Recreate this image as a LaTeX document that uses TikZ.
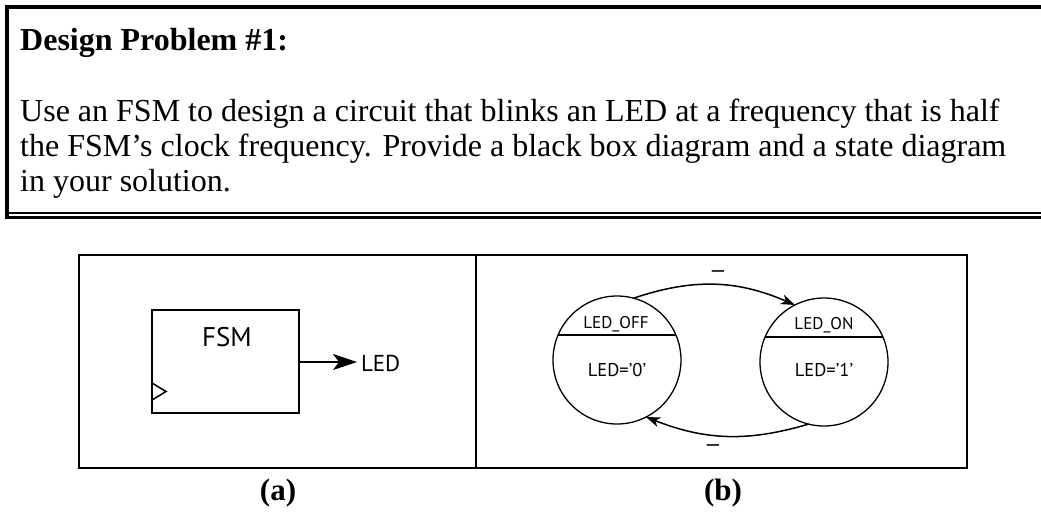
\documentclass[tikz,border=0pt]{standalone}
\usepackage{fontspec}
\setmainfont{Liberation Serif}
\newfontfamily\diagfont{PT Sans}
\usetikzlibrary{arrows.meta}
\begin{document}
\begin{tikzpicture}[x=1pt,y=1pt,
  body/.style={anchor=base west, inner sep=0pt, font=\fontsize{32}{38}\selectfont},
  panel/.style={draw, line width=2pt, inner sep=0pt, outer sep=0pt, anchor=north west},
  statecirc/.style={circle, draw, line width=1.3pt, minimum size=128pt, inner sep=0pt, outer sep=0pt},
  statetext/.style={font=\diagfont\fontsize{17}{20}\selectfont, inner sep=0pt, anchor=base},
  outtext/.style={font=\diagfont\fontsize{18.5}{22}\selectfont, inner sep=0pt, anchor=base},
  trans/.style={line width=1.5pt, -{Stealth[length=14pt,width=10pt,inset=4pt]}},
  dashlabel/.style={font=\diagfont\fontsize{21}{24}\selectfont, inner sep=0pt},
  caption/.style={font=\bfseries\fontsize{31}{36}\selectfont, inner sep=0pt}
]
\useasboundingbox (0,0) rectangle (1041,-512);
% problem statement box
\draw[line width=4pt] (1041,-7) -- (7,-7) -- (7,-218.5);
\draw[line width=2pt] (9,-212.5) -- (1041,-212.5);
\draw[line width=3pt] (5,-217) -- (1041,-217);
\node[body, font=\bfseries\fontsize{32}{38}\selectfont] (title) at (20,-50) {Design Problem \#1:};
\node[body] (l1) at (20,-121) {Use an FSM to design a circuit that blinks an LED at a frequency that is half};
\node[body] (l2) at (20,-156) {the FSM’s clock frequency. Provide a black box diagram and a state diagram};
\node[body] (l3) at (20,-191) {in your solution.};
% panels
\node[panel, minimum width=397pt, minimum height=213pt] (pa) at (79,-255) {};
\node[panel, minimum width=491pt, minimum height=213pt] (pb) at (476,-255) {};
% (a) black box
\node[panel, minimum width=147pt, minimum height=103pt] (fsm) at (152,-310) {};
\node[font=\diagfont\fontsize{27}{32}\selectfont, inner sep=0pt, anchor=base] (fsmlabel) at (227,-346) {FSM};
\draw[line width=1.6pt, line join=miter] ([yshift=30pt]fsm.south west) -- ++(14,-8.5) -- ++(-14,-8.5);
\node[font=\diagfont\fontsize{23}{28}\selectfont, inner sep=0pt, outer sep=0pt, anchor=base west] (led) at (361,-371) {LED};
\coordinate (ledin) at (357,-362);
\draw[line width=2pt, -{Stealth[length=24pt,width=16pt,inset=6pt]}] (fsm.east |- ledin) -- (ledin);
% (b) state diagram
\node[statecirc] (off) at (617,-360) {};
\node[statecirc] (on) at (824,-362) {};
\draw[line width=1.3pt] (off.157) -- (off.23);
\draw[line width=1.3pt] (on.157) -- (on.23);
\node[statetext] (offname) at (616,-328) {LED\_OFF};
\node[outtext] (offout) at (617,-376) {LED=’0’};
\node[statetext] (onname) at (824,-329) {LED\_ON};
\node[outtext] (onout) at (824,-376) {LED=’1’};
\draw[trans] (off.75) to[bend left=21] (on.117);
\draw[trans] (on.256) to[bend left=19] (off.297);
\node[dashlabel] (d1) at (718,-274) {—};
\node[dashlabel] (d2) at (713,-448) {—};
% captions
\node[caption] (capa) at (278,-493) {(a)};
\node[caption] (capb) at (723,-493) {(b)};
\end{tikzpicture}
\end{document}
